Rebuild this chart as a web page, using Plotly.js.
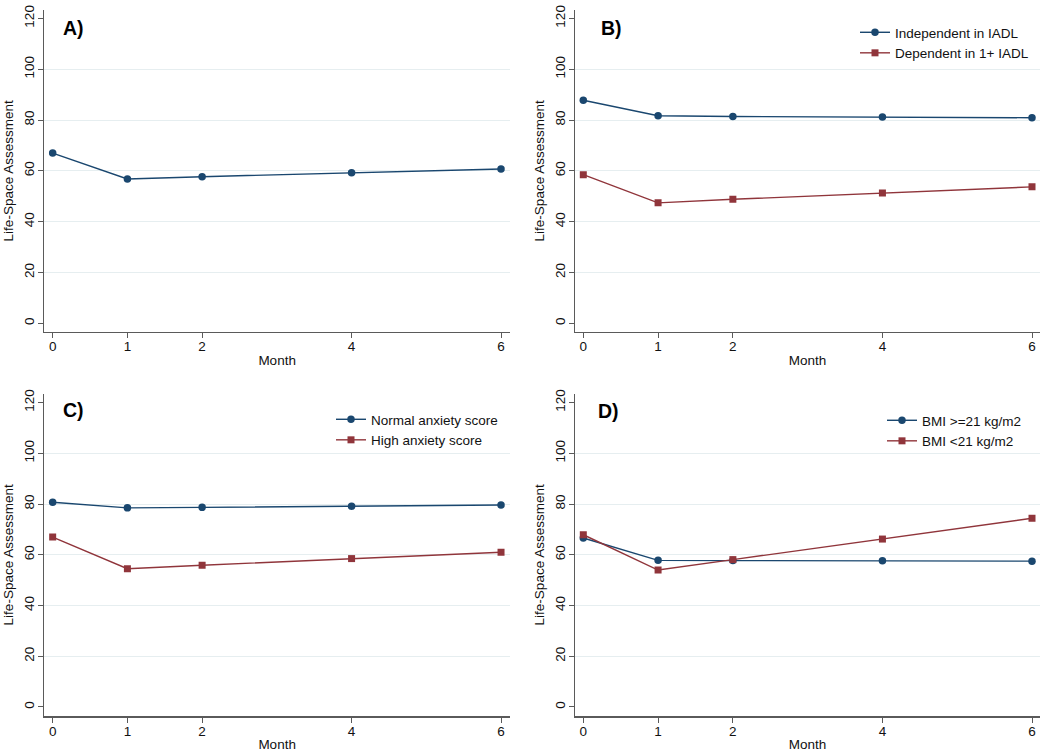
<!DOCTYPE html>
<html>
<head>
<meta charset="utf-8">
<script src="https://cdn.plot.ly/plotly-3.0.1.min.js"></script>
<style>html,body{margin:0;padding:0;background:#fff;}#chart{width:1050px;height:755px;}</style>
</head>
<body>
<div id="chart"></div>
<script>
// Data
const months = [0, 1, 2, 4, 6];
const monthTicks = ['0', '1', '2', '4', '6'];
const yTicks = [0, 20, 40, 60, 80, 100, 120];

const panelA_all = [67.0, 56.8, 57.7, 59.3, 60.7];

const panelB_independent = [87.8, 81.7, 81.4, 81.2, 80.9];
const panelB_dependent = [58.5, 47.4, 48.8, 51.3, 53.7];

const panelC_normal = [80.7, 78.5, 78.7, 79.1, 79.6];
const panelC_high = [67.0, 54.5, 55.9, 58.5, 61.0];

const panelD_bmiHigh = [66.6, 57.8, 57.7, 57.6, 57.5];
const panelD_bmiLow = [67.9, 54.0, 58.1, 66.2, 74.4];

const namesB = ['Independent in IADL', 'Dependent in 1+ IADL'];
const namesC = ['Normal anxiety score', 'High anxiety score'];
const namesD = ['BMI >=21 kg/m2', 'BMI <21 kg/m2'];
const panelLabels = ['A)', 'B)', 'C)', 'D)'];

const BLUE = '#1a476f';
const RED = '#90353b';
const FONT = 'Arial, "Liberation Sans", sans-serif';

function blueTrace(y, xa, ya, name, leg, show) {
  return {x: months, y: y, xaxis: xa, yaxis: ya, name: name, type: 'scatter', mode: 'lines+markers',
    line: {color: BLUE, width: 1.4}, marker: {color: BLUE, size: 7.5, symbol: 'circle'},
    showlegend: show, legend: leg};
}
function redTrace(y, xa, ya, name, leg, show) {
  return {x: months, y: y, xaxis: xa, yaxis: ya, name: name, type: 'scatter', mode: 'lines+markers',
    line: {color: RED, width: 1.4}, marker: {color: RED, size: 7, symbol: 'square'},
    showlegend: show, legend: leg};
}

const data = [
  blueTrace(panelA_all, 'x', 'y', 'All', 'legend', false),
  blueTrace(panelB_independent, 'x2', 'y2', namesB[0], 'legend', true),
  redTrace(panelB_dependent, 'x2', 'y2', namesB[1], 'legend', true),
  blueTrace(panelC_normal, 'x3', 'y3', namesC[0], 'legend2', true),
  redTrace(panelC_high, 'x3', 'y3', namesC[1], 'legend2', true),
  blueTrace(panelD_bmiHigh, 'x4', 'y4', namesD[0], 'legend3', true),
  redTrace(panelD_bmiLow, 'x4', 'y4', namesD[1], 'legend3', true)
];

function xAxis(domain, anchor, range) {
  return {domain: domain, anchor: anchor, range: range, tickvals: months, ticktext: monthTicks,
    showgrid: false, zeroline: false, showline: true, linecolor: '#5a5a5a', linewidth: 1.5,
    ticks: 'outside', ticklen: 5, tickcolor: '#5a5a5a', tickwidth: 1, ticklabelstandoff: -3,
    tickfont: {family: FONT, size: 13.5, color: '#111'},
    title: {text: 'Month', font: {family: FONT, size: 13.5, color: '#111'}, standoff: 2}};
}
function yAxis(domain, anchor, range) {
  return {domain: domain, anchor: anchor, range: range, tickvals: yTicks,
    showgrid: false, zeroline: false, showline: true, linecolor: '#5a5a5a', linewidth: 1.5,
    ticks: 'outside', ticklen: 5, tickcolor: '#5a5a5a', tickwidth: 1, tickangle: -90, ticklabelstandoff: -2,
    tickfont: {family: FONT, size: 13.5, color: '#111'},
    minor: {tickvals: [20, 40, 60, 80, 100], showgrid: true, gridcolor: '#e6eef0', gridwidth: 1, ticklen: 0},
    title: {text: 'Life-Space Assessment', font: {family: FONT, size: 13.5, color: '#111'}, standoff: 5}};
}

const xdomL = [44.3 / 1050, 510 / 1050];
const xdomR = [575 / 1050, 1040 / 1050];
const ydomT = [(755 - 331.7) / 755, (755 - 10) / 755];
const ydomB = [(755 - 716) / 755, (755 - 393.7) / 755];

function legendAt(x, y) {
  return {x: x, y: y, xref: 'paper', yref: 'paper', xanchor: 'left', yanchor: 'top',
    bgcolor: 'rgba(0,0,0,0)', borderwidth: 0, tracegroupgap: 0,
    font: {family: FONT, size: 13.5, color: '#111'}};
}

function label(text, x, y) {
  return {text: '<b>' + text + '</b>', x: x, y: y, xref: 'paper', yref: 'paper',
    xanchor: 'left', yanchor: 'middle', showarrow: false,
    font: {family: FONT, size: 19.5, color: '#000'}};
}

const layout = {
  width: 1050, height: 755,
  margin: {l: 0, r: 0, t: 0, b: 0},
  paper_bgcolor: '#fff', plot_bgcolor: '#fff',
  xaxis: xAxis(xdomL, 'y', [-0.112, 6.12]),
  yaxis: yAxis(ydomT, 'x', [-3.3, 123.3]),
  xaxis2: xAxis(xdomR, 'y2', [-0.111, 6.107]),
  yaxis2: yAxis(ydomT, 'x2', [-3.3, 123.3]),
  xaxis3: xAxis(xdomL, 'y3', [-0.112, 6.12]),
  yaxis3: yAxis(ydomB, 'x3', [-3.55, 123.5]),
  xaxis4: xAxis(xdomR, 'y4', [-0.111, 6.107]),
  yaxis4: yAxis(ydomB, 'x4', [-3.55, 123.5]),
  legend: legendAt((897 - 42) / 1050, (755 - 17) / 755),
  legend2: legendAt((373 - 42) / 1050, (755 - 404) / 755 ),
  legend3: legendAt((924 - 42) / 1050, (755 - 405) / 755),
  annotations: [
    label(panelLabels[0], 61 / 1050, (755 - 28) / 755),
    label(panelLabels[1], 599 / 1050, (755 - 28.3) / 755),
    label(panelLabels[2], 61 / 1050, (755 - 410.3) / 755),
    label(panelLabels[3], 596 / 1050, (755 - 411.3) / 755)
  ],
  hovermode: false
};

Plotly.newPlot('chart', data, layout, {displayModeBar: false, staticPlot: true});
</script>
</body>
</html>
